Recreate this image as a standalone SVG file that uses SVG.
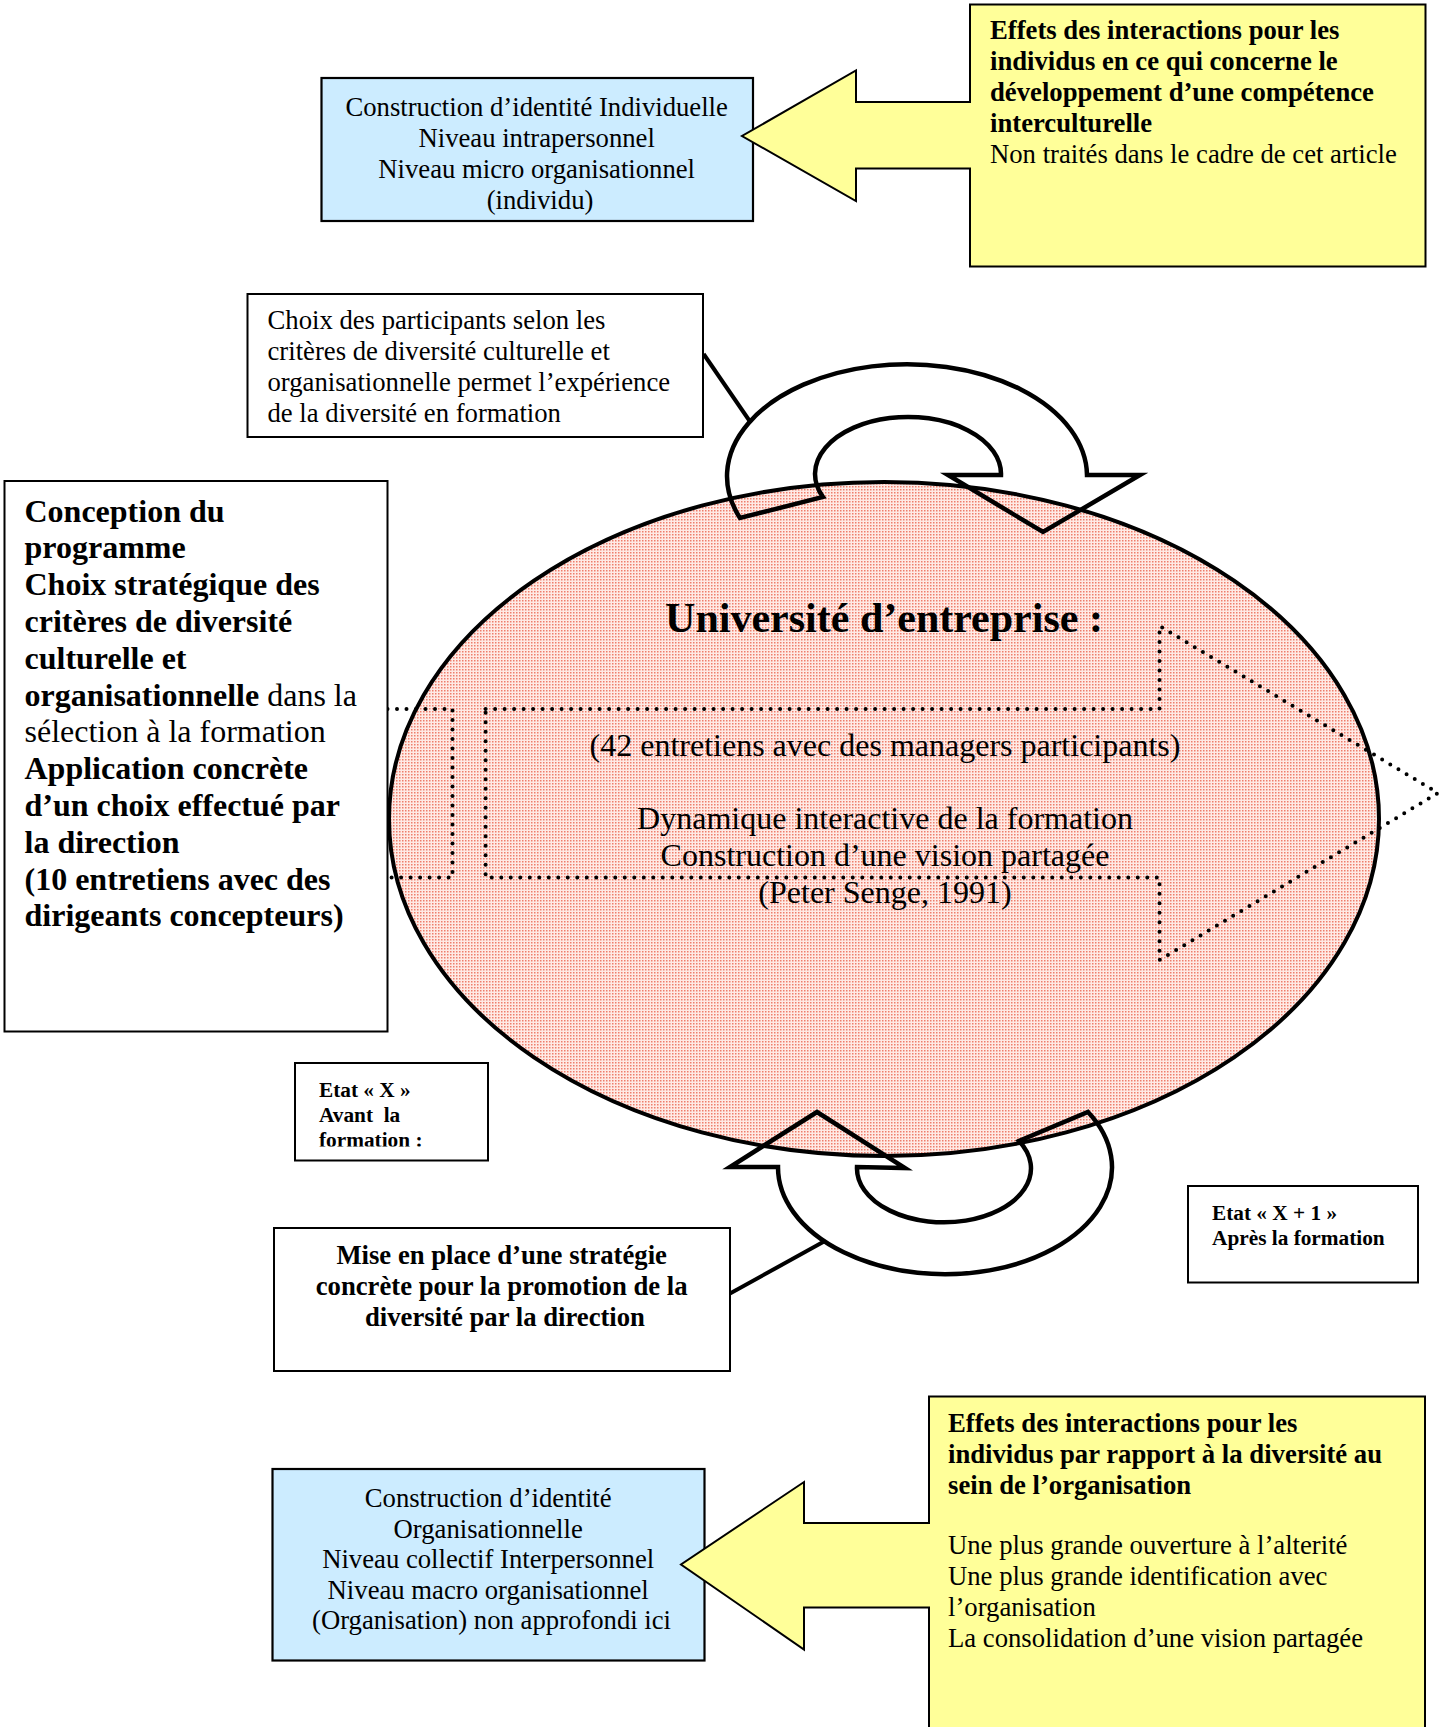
<svg xmlns="http://www.w3.org/2000/svg" width="1439" height="1727" viewBox="0 0 1439 1727">
<style>
text{font-family:"Liberation Serif","Times New Roman",serif;fill:#000}
.n{font-size:26.7px}
.b{font-size:26.7px;font-weight:bold}
.cb{font-size:32px;font-weight:bold}
.cn{font-size:32px;font-weight:normal}
.e{font-size:32px}
.t{font-size:42px;font-weight:bold}
.s{font-size:21.3px;font-weight:bold}
.box{fill:#fff;stroke:#000;stroke-width:2}
.blue{fill:#CCECFF;stroke:#000;stroke-width:2.2}
.yel{fill:#FFFF99;stroke:#000;stroke-width:2}
.dot{fill:none;stroke:#000;stroke-width:4;stroke-dasharray:0 9.5;stroke-linecap:round}
.ca{fill:none;stroke:#000;stroke-width:4.5;stroke-linejoin:miter}
.ln{stroke:#000;stroke-width:4}
</style>
<defs>
<pattern id="pink" width="3" height="3" patternUnits="userSpaceOnUse">
<rect width="3" height="3" fill="#FFEAE5"/>
<rect width="1.5" height="1.5" fill="#EE7E6C"/>
</pattern>
<clipPath id="clipX"><rect x="296" y="1064" width="191" height="82.5"/></clipPath>
</defs>

<g id="universite">
<ellipse cx="884" cy="819" rx="495" ry="337" fill="url(#pink)" stroke="#000" stroke-width="4"/>
<path class="dot" d="M485.6,709 H1159.5 V626 L1438,793 L1159.5,960 V877.6 H485.6 Z"/>
<path class="dot" d="M378,709 H452.5 V877.6 H378"/>
<text class="t" x="884" y="632" text-anchor="middle">Université d’entreprise :</text>
<text class="e" x="885" y="756" text-anchor="middle">(42 entretiens avec des managers participants)</text>
<text class="e" x="885" y="829" text-anchor="middle">Dynamique interactive de la formation</text>
<text class="e" x="885" y="866" text-anchor="middle">Construction d’une vision partagée</text>
<text class="e" x="885" y="902.5" text-anchor="middle">(Peter Senge, 1991)</text>
</g>

<g id="connectors">
<path class="ca" d="M740,518 A180,112 0 1,1 1087,475 L1140,475 L1043,532 L948,475 L1001,475 A93,57 0 1,0 823,497 Z"/>
<path class="ca" d="M1088,1112 A167,107 0 1,1 778,1167 L730,1167 L817,1112 L905,1168 L857,1167 A87,54 0 1,0 1019,1141 Z"/>
<line class="ln" x1="703.6" y1="354" x2="751" y2="423"/>
<line class="ln" x1="730" y1="1293.5" x2="824" y2="1241.5"/>
</g>

<g id="identite-individuelle">
<rect class="blue" x="321.5" y="78" width="431.5" height="143"/>
<text class="n" text-anchor="middle">
<tspan x="540" y="116">Construction d’identité Individuelle</tspan>
<tspan x="540" y="147">Niveau intrapersonnel</tspan>
<tspan x="540" y="178">Niveau micro organisationnel</tspan>
<tspan x="540" y="208.5">(individu)</tspan>
</text>
</g>

<g id="effets-competence">
<path class="yel" d="M970,4.5 H1425.5 V266.5 H970 V168.5 H856 V201 L742,136 L856,70.5 V102 H970 Z"/>
<text class="b"><tspan x="990" y="39">Effets des interactions pour les</tspan><tspan x="990" y="70">individus en ce qui concerne le</tspan><tspan x="990" y="101">développement d’une compétence</tspan><tspan x="990" y="131.7">interculturelle</tspan></text>
<text class="n" x="990" y="162.5">Non traités dans le cadre de cet article</text>
</g>

<g id="choix-participants">
<rect class="box" x="247.5" y="294" width="455.5" height="143" stroke-width="1.5"/>
<text class="n">
<tspan x="267.5" y="329">Choix des participants selon les</tspan>
<tspan x="267.5" y="360">critères de diversité culturelle et</tspan>
<tspan x="267.5" y="391">organisationnelle permet l’expérience</tspan>
<tspan x="267.5" y="422">de la diversité en formation</tspan>
</text>
</g>

<g id="conception">
<rect class="box" x="4.5" y="481" width="383" height="550.5"/>
<text class="cb">
<tspan x="24.5" y="521.5">Conception du</tspan>
<tspan x="24.5" y="558.3">programme</tspan>
<tspan x="24.5" y="595.1">Choix stratégique des</tspan>
<tspan x="24.5" y="631.9">critères de diversité</tspan>
<tspan x="24.5" y="668.7">culturelle et</tspan>
<tspan x="24.5" y="705.5">organisationnelle<tspan class="cn"> dans la</tspan></tspan>
<tspan x="24.5" y="742.3" class="cn">sélection à la formation</tspan>
<tspan x="24.5" y="779.1">Application concrète</tspan>
<tspan x="24.5" y="815.9">d’un choix effectué par</tspan>
<tspan x="24.5" y="852.7">la direction</tspan>
<tspan x="24.5" y="889.5">(10 entretiens avec des</tspan>
<tspan x="24.5" y="926.3">dirigeants concepteurs)</tspan>
</text>
</g>

<g id="etat-x">
<rect class="box" x="295" y="1063" width="193" height="97.5" stroke-width="2.2"/>
<text class="s" clip-path="url(#clipX)" xml:space="preserve"><tspan x="319" y="1097">Etat « X »</tspan><tspan x="319" y="1122">Avant  la</tspan><tspan x="319" y="1147">formation :</tspan></text>
</g>

<g id="etat-x1">
<rect class="box" x="1188" y="1186" width="230" height="96.5" stroke-width="2.2"/>
<text class="s"><tspan x="1212" y="1220">Etat « X + 1 »</tspan><tspan x="1212" y="1244.5">Après la formation</tspan></text>
</g>

<g id="strategie-direction">
<rect class="box" x="274" y="1228" width="456" height="143" stroke-width="1.5"/>
<text class="b" text-anchor="middle">
<tspan x="505" y="1264">Mise en place d’une stratégie</tspan>
<tspan x="505" y="1295">concrète pour la promotion de la</tspan>
<tspan x="505" y="1326">diversité par la direction</tspan>
</text>
</g>

<g id="identite-organisationnelle">
<rect class="blue" x="272.5" y="1469" width="432" height="191.5"/>
<text class="n" text-anchor="middle">
<tspan x="491.5" y="1507">Construction d’identité</tspan>
<tspan x="491.5" y="1537.5">Organisationnelle</tspan>
<tspan x="491.5" y="1568">Niveau collectif Interpersonnel</tspan>
<tspan x="491.5" y="1598.5">Niveau macro organisationnel</tspan>
<tspan x="491.5" y="1629">(Organisation) non approfondi ici</tspan>
</text>
</g>

<g id="effets-diversite">
<path class="yel" d="M929,1396.5 H1425 V1735 H929 V1607.5 H804 V1649.5 L681,1564.5 L804,1482 V1523 H929 Z"/>
<text class="b"><tspan x="948" y="1431.5">Effets des interactions pour les</tspan><tspan x="948" y="1462.5">individus par rapport à la diversité au</tspan><tspan x="948" y="1493.5">sein de l’organisation</tspan></text>
<text class="n"><tspan x="948" y="1554">Une plus grande ouverture à l’alterité</tspan><tspan x="948" y="1585">Une plus grande identification avec</tspan><tspan x="948" y="1615.5">l’organisation</tspan><tspan x="948" y="1646.5">La consolidation d’une vision partagée</tspan></text>
</g>
</svg>
